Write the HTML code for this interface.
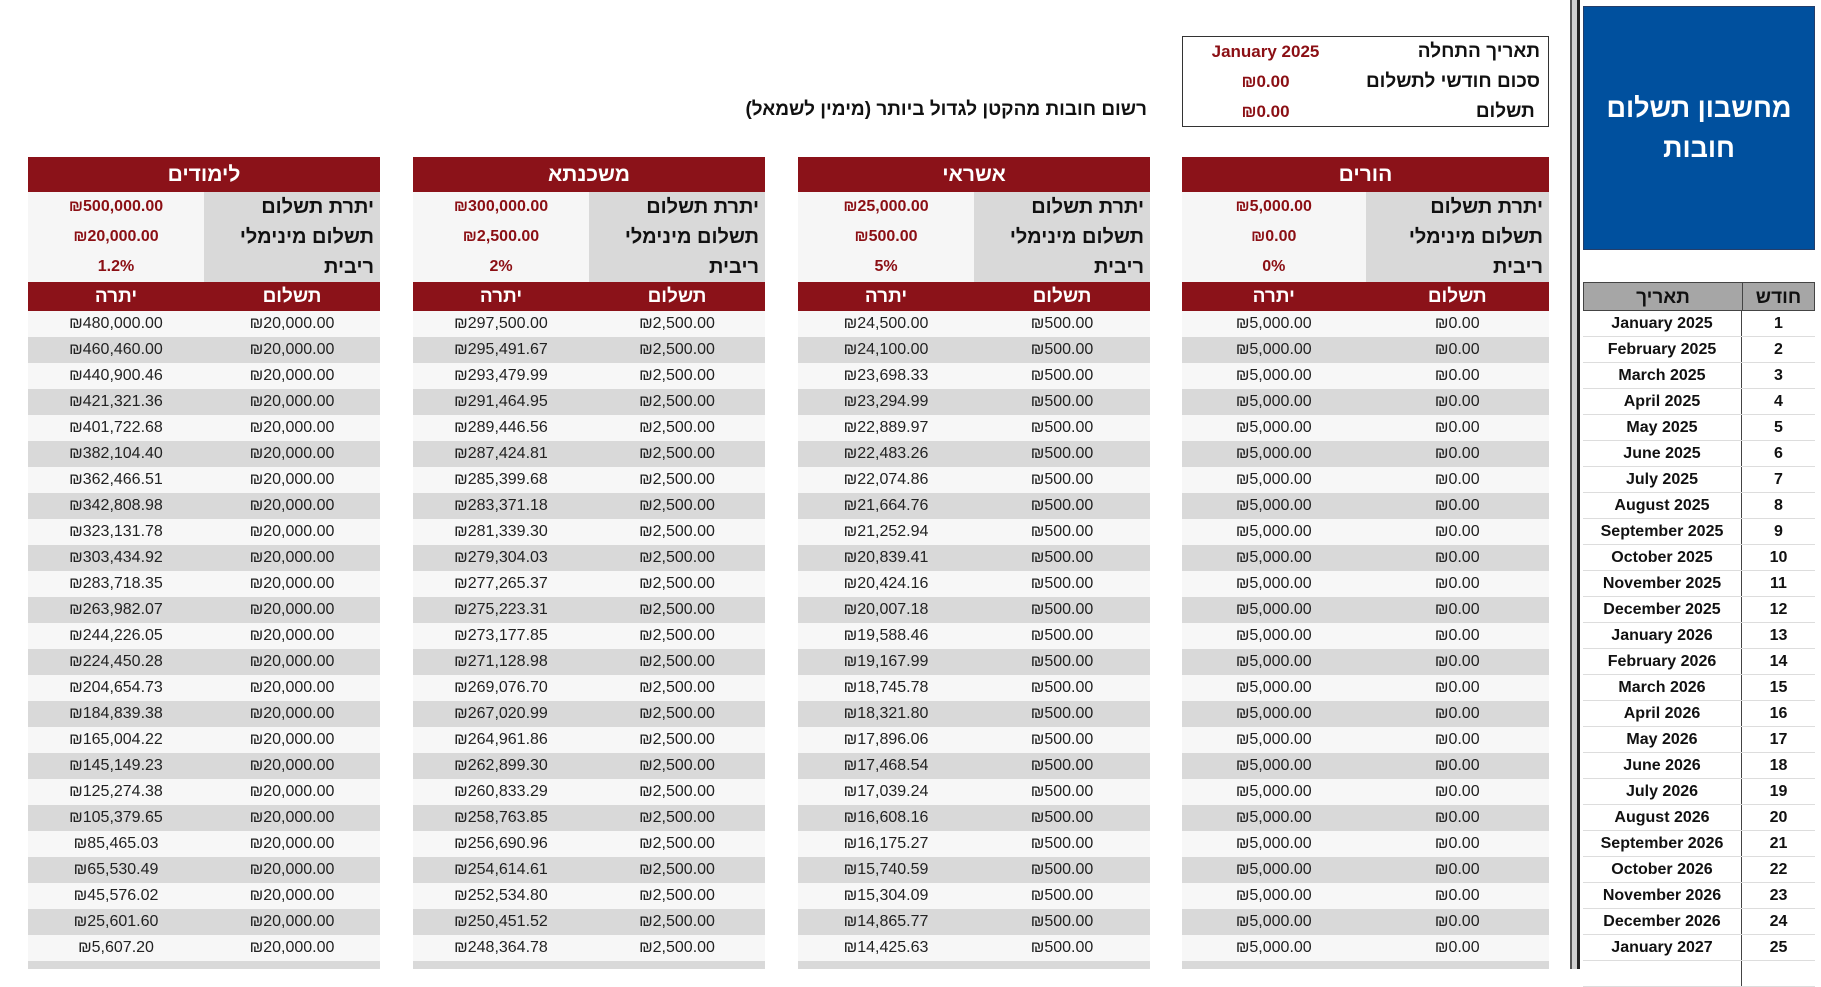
<!DOCTYPE html>
<html><head><meta charset="utf-8"><style>
*{box-sizing:border-box;margin:0;padding:0}
body{width:1821px;height:969px;overflow:hidden;background:#fff;position:relative;font-family:"Liberation Sans Narrow","Liberation Sans","DejaVu Sans",sans-serif;color:#111}
.abs{position:absolute}
.vbar{left:1570px;top:0;width:10px;height:969px;background:#d0d0d0;border-left:2px solid #555;border-right:3px solid #222}
.blue{left:1583px;top:6px;width:232px;height:244px;background:#00509e;border:1px solid #243e6a;color:#fff;font-weight:bold;font-size:27px;display:flex;align-items:center;justify-content:center;text-align:center;line-height:40px;direction:rtl;padding:0 20px}
.info{left:1182px;top:36px;width:367px;height:91px;border:1.5px solid #333;direction:rtl;font-weight:bold;font-size:19px}
.info div{height:30px;line-height:30px;display:flex}
.info .l{width:200px;padding-right:8px}
.info .v{flex:1;text-align:center;color:#8b0f14;font-size:17px}
.sub{left:700px;top:99px;width:447px;text-align:right;direction:rtl;font-weight:bold;font-size:19px}
.t{top:157px;height:812px;overflow:hidden}
.t .h{height:35px;background:#8b1219;color:#fff;font-weight:bold;font-size:21px;text-align:center;line-height:36px;direction:rtl}
.t .p{height:30px;display:flex;font-weight:bold}
.t .p span{width:50%;line-height:30px}
.t .p .pv{background:#f6f6f6;text-align:center;color:#8b0f14;font-size:16px}
.t .p .pl{background:#d9d9d9;text-align:right;padding-right:6px;font-size:20px;direction:rtl}
.t .ch{height:29px;background:#8b1219;color:#fff;display:flex;font-weight:bold;font-size:19px;line-height:30px}
.t .ch span,.t .r span{width:50%;text-align:center}
.t .r{height:26px;display:flex;font-size:16px;line-height:26px;color:#222;background:#f7f7f7}
.t .r:nth-child(even){background:#d9d9d9}
.rt{left:1583px;top:282px;width:232px}
.rt .hh{height:29px;background:#a6a6a6;display:flex;font-weight:bold;font-size:19px;line-height:29px;border:1px solid #444}
.rt .hh span:first-child,.rt .rr span:first-child{width:159px;text-align:center;border-right:1px solid #444}
.rt .hh span:last-child,.rt .rr span:last-child{flex:1;text-align:center}
.rt .rr{height:26px;display:flex;font-weight:bold;font-size:16px;line-height:26px;border-bottom:1px solid #ddd}
</style></head><body>
<div class="abs vbar"></div>
<div class="abs blue">מחשבון תשלום חובות</div>
<div class="abs info">
<div><span class="l">תאריך התחלה</span><span class="v">January 2025</span></div>
<div><span class="l">סכום חודשי לתשלום</span><span class="v">₪0.00</span></div>
<div><span class="l">&nbsp;תשלום</span><span class="v">₪0.00</span></div>
</div>
<div class="abs sub">רשום חובות מהקטן לגדול ביותר (מימין לשמאל)</div>

<div class="abs t" style="left:1182px;width:367px">
<div class="h">הורים</div>
<div class="p"><span class="pv">₪5,000.00</span><span class="pl">יתרת תשלום</span></div>
<div class="p"><span class="pv">₪0.00</span><span class="pl">תשלום מינימלי</span></div>
<div class="p"><span class="pv">0%</span><span class="pl">ריבית</span></div>
<div class="ch"><span>יתרה</span><span>תשלום</span></div>
<div>
<div class="r"><span>₪5,000.00</span><span>₪0.00</span></div><div class="r"><span>₪5,000.00</span><span>₪0.00</span></div><div class="r"><span>₪5,000.00</span><span>₪0.00</span></div><div class="r"><span>₪5,000.00</span><span>₪0.00</span></div><div class="r"><span>₪5,000.00</span><span>₪0.00</span></div>
<div class="r"><span>₪5,000.00</span><span>₪0.00</span></div><div class="r"><span>₪5,000.00</span><span>₪0.00</span></div><div class="r"><span>₪5,000.00</span><span>₪0.00</span></div><div class="r"><span>₪5,000.00</span><span>₪0.00</span></div><div class="r"><span>₪5,000.00</span><span>₪0.00</span></div>
<div class="r"><span>₪5,000.00</span><span>₪0.00</span></div><div class="r"><span>₪5,000.00</span><span>₪0.00</span></div><div class="r"><span>₪5,000.00</span><span>₪0.00</span></div><div class="r"><span>₪5,000.00</span><span>₪0.00</span></div><div class="r"><span>₪5,000.00</span><span>₪0.00</span></div>
<div class="r"><span>₪5,000.00</span><span>₪0.00</span></div><div class="r"><span>₪5,000.00</span><span>₪0.00</span></div><div class="r"><span>₪5,000.00</span><span>₪0.00</span></div><div class="r"><span>₪5,000.00</span><span>₪0.00</span></div><div class="r"><span>₪5,000.00</span><span>₪0.00</span></div>
<div class="r"><span>₪5,000.00</span><span>₪0.00</span></div><div class="r"><span>₪5,000.00</span><span>₪0.00</span></div><div class="r"><span>₪5,000.00</span><span>₪0.00</span></div><div class="r"><span>₪5,000.00</span><span>₪0.00</span></div><div class="r"><span>₪5,000.00</span><span>₪0.00</span></div>
<div class="r"><span></span><span></span></div>
</div></div>

<div class="abs t" style="left:798px;width:352px">
<div class="h">אשראי</div>
<div class="p"><span class="pv">₪25,000.00</span><span class="pl">יתרת תשלום</span></div>
<div class="p"><span class="pv">₪500.00</span><span class="pl">תשלום מינימלי</span></div>
<div class="p"><span class="pv">5%</span><span class="pl">ריבית</span></div>
<div class="ch"><span>יתרה</span><span>תשלום</span></div>
<div>
<div class="r"><span>₪24,500.00</span><span>₪500.00</span></div><div class="r"><span>₪24,100.00</span><span>₪500.00</span></div><div class="r"><span>₪23,698.33</span><span>₪500.00</span></div><div class="r"><span>₪23,294.99</span><span>₪500.00</span></div><div class="r"><span>₪22,889.97</span><span>₪500.00</span></div>
<div class="r"><span>₪22,483.26</span><span>₪500.00</span></div><div class="r"><span>₪22,074.86</span><span>₪500.00</span></div><div class="r"><span>₪21,664.76</span><span>₪500.00</span></div><div class="r"><span>₪21,252.94</span><span>₪500.00</span></div><div class="r"><span>₪20,839.41</span><span>₪500.00</span></div>
<div class="r"><span>₪20,424.16</span><span>₪500.00</span></div><div class="r"><span>₪20,007.18</span><span>₪500.00</span></div><div class="r"><span>₪19,588.46</span><span>₪500.00</span></div><div class="r"><span>₪19,167.99</span><span>₪500.00</span></div><div class="r"><span>₪18,745.78</span><span>₪500.00</span></div>
<div class="r"><span>₪18,321.80</span><span>₪500.00</span></div><div class="r"><span>₪17,896.06</span><span>₪500.00</span></div><div class="r"><span>₪17,468.54</span><span>₪500.00</span></div><div class="r"><span>₪17,039.24</span><span>₪500.00</span></div><div class="r"><span>₪16,608.16</span><span>₪500.00</span></div>
<div class="r"><span>₪16,175.27</span><span>₪500.00</span></div><div class="r"><span>₪15,740.59</span><span>₪500.00</span></div><div class="r"><span>₪15,304.09</span><span>₪500.00</span></div><div class="r"><span>₪14,865.77</span><span>₪500.00</span></div><div class="r"><span>₪14,425.63</span><span>₪500.00</span></div>
<div class="r"><span></span><span></span></div>
</div></div>

<div class="abs t" style="left:413px;width:352px">
<div class="h">משכנתא</div>
<div class="p"><span class="pv">₪300,000.00</span><span class="pl">יתרת תשלום</span></div>
<div class="p"><span class="pv">₪2,500.00</span><span class="pl">תשלום מינימלי</span></div>
<div class="p"><span class="pv">2%</span><span class="pl">ריבית</span></div>
<div class="ch"><span>יתרה</span><span>תשלום</span></div>
<div>
<div class="r"><span>₪297,500.00</span><span>₪2,500.00</span></div><div class="r"><span>₪295,491.67</span><span>₪2,500.00</span></div><div class="r"><span>₪293,479.99</span><span>₪2,500.00</span></div><div class="r"><span>₪291,464.95</span><span>₪2,500.00</span></div><div class="r"><span>₪289,446.56</span><span>₪2,500.00</span></div>
<div class="r"><span>₪287,424.81</span><span>₪2,500.00</span></div><div class="r"><span>₪285,399.68</span><span>₪2,500.00</span></div><div class="r"><span>₪283,371.18</span><span>₪2,500.00</span></div><div class="r"><span>₪281,339.30</span><span>₪2,500.00</span></div><div class="r"><span>₪279,304.03</span><span>₪2,500.00</span></div>
<div class="r"><span>₪277,265.37</span><span>₪2,500.00</span></div><div class="r"><span>₪275,223.31</span><span>₪2,500.00</span></div><div class="r"><span>₪273,177.85</span><span>₪2,500.00</span></div><div class="r"><span>₪271,128.98</span><span>₪2,500.00</span></div><div class="r"><span>₪269,076.70</span><span>₪2,500.00</span></div>
<div class="r"><span>₪267,020.99</span><span>₪2,500.00</span></div><div class="r"><span>₪264,961.86</span><span>₪2,500.00</span></div><div class="r"><span>₪262,899.30</span><span>₪2,500.00</span></div><div class="r"><span>₪260,833.29</span><span>₪2,500.00</span></div><div class="r"><span>₪258,763.85</span><span>₪2,500.00</span></div>
<div class="r"><span>₪256,690.96</span><span>₪2,500.00</span></div><div class="r"><span>₪254,614.61</span><span>₪2,500.00</span></div><div class="r"><span>₪252,534.80</span><span>₪2,500.00</span></div><div class="r"><span>₪250,451.52</span><span>₪2,500.00</span></div><div class="r"><span>₪248,364.78</span><span>₪2,500.00</span></div>
<div class="r"><span></span><span></span></div>
</div></div>

<div class="abs t" style="left:28px;width:352px">
<div class="h">לימודים</div>
<div class="p"><span class="pv">₪500,000.00</span><span class="pl">יתרת תשלום</span></div>
<div class="p"><span class="pv">₪20,000.00</span><span class="pl">תשלום מינימלי</span></div>
<div class="p"><span class="pv">1.2%</span><span class="pl">ריבית</span></div>
<div class="ch"><span>יתרה</span><span>תשלום</span></div>
<div>
<div class="r"><span>₪480,000.00</span><span>₪20,000.00</span></div><div class="r"><span>₪460,460.00</span><span>₪20,000.00</span></div><div class="r"><span>₪440,900.46</span><span>₪20,000.00</span></div><div class="r"><span>₪421,321.36</span><span>₪20,000.00</span></div><div class="r"><span>₪401,722.68</span><span>₪20,000.00</span></div>
<div class="r"><span>₪382,104.40</span><span>₪20,000.00</span></div><div class="r"><span>₪362,466.51</span><span>₪20,000.00</span></div><div class="r"><span>₪342,808.98</span><span>₪20,000.00</span></div><div class="r"><span>₪323,131.78</span><span>₪20,000.00</span></div><div class="r"><span>₪303,434.92</span><span>₪20,000.00</span></div>
<div class="r"><span>₪283,718.35</span><span>₪20,000.00</span></div><div class="r"><span>₪263,982.07</span><span>₪20,000.00</span></div><div class="r"><span>₪244,226.05</span><span>₪20,000.00</span></div><div class="r"><span>₪224,450.28</span><span>₪20,000.00</span></div><div class="r"><span>₪204,654.73</span><span>₪20,000.00</span></div>
<div class="r"><span>₪184,839.38</span><span>₪20,000.00</span></div><div class="r"><span>₪165,004.22</span><span>₪20,000.00</span></div><div class="r"><span>₪145,149.23</span><span>₪20,000.00</span></div><div class="r"><span>₪125,274.38</span><span>₪20,000.00</span></div><div class="r"><span>₪105,379.65</span><span>₪20,000.00</span></div>
<div class="r"><span>₪85,465.03</span><span>₪20,000.00</span></div><div class="r"><span>₪65,530.49</span><span>₪20,000.00</span></div><div class="r"><span>₪45,576.02</span><span>₪20,000.00</span></div><div class="r"><span>₪25,601.60</span><span>₪20,000.00</span></div><div class="r"><span>₪5,607.20</span><span>₪20,000.00</span></div>
<div class="r"><span></span><span></span></div>
</div></div>

<div class="abs rt">
<div class="hh"><span>תאריך</span><span>חודש</span></div>
<div class="rr"><span>January 2025</span><span>1</span></div>
<div class="rr"><span>February 2025</span><span>2</span></div>
<div class="rr"><span>March 2025</span><span>3</span></div>
<div class="rr"><span>April 2025</span><span>4</span></div>
<div class="rr"><span>May 2025</span><span>5</span></div>
<div class="rr"><span>June 2025</span><span>6</span></div>
<div class="rr"><span>July 2025</span><span>7</span></div>
<div class="rr"><span>August 2025</span><span>8</span></div>
<div class="rr"><span>September 2025</span><span>9</span></div>
<div class="rr"><span>October 2025</span><span>10</span></div>
<div class="rr"><span>November 2025</span><span>11</span></div>
<div class="rr"><span>December 2025</span><span>12</span></div>
<div class="rr"><span>January 2026</span><span>13</span></div>
<div class="rr"><span>February 2026</span><span>14</span></div>
<div class="rr"><span>March 2026</span><span>15</span></div>
<div class="rr"><span>April 2026</span><span>16</span></div>
<div class="rr"><span>May 2026</span><span>17</span></div>
<div class="rr"><span>June 2026</span><span>18</span></div>
<div class="rr"><span>July 2026</span><span>19</span></div>
<div class="rr"><span>August 2026</span><span>20</span></div>
<div class="rr"><span>September 2026</span><span>21</span></div>
<div class="rr"><span>October 2026</span><span>22</span></div>
<div class="rr"><span>November 2026</span><span>23</span></div>
<div class="rr"><span>December 2026</span><span>24</span></div>
<div class="rr"><span>January 2027</span><span>25</span></div>
<div class="rr"><span></span><span></span></div>
</div>
</body></html>
